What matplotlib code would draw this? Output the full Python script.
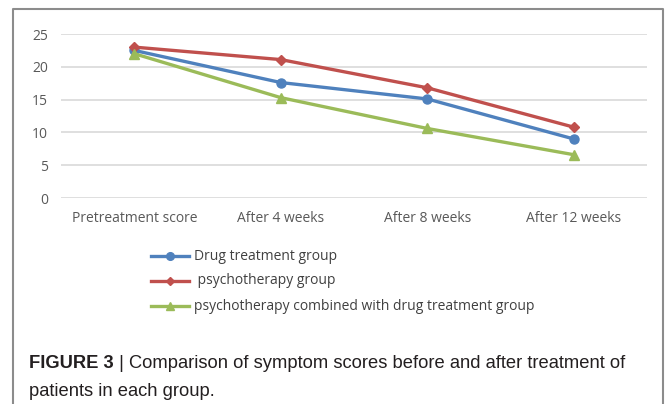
import matplotlib.pyplot as plt
from matplotlib.lines import Line2D

categories = ["Pretreatment score", "After 4 weeks", "After 8 weeks", "After 12 weeks"]
drug = [22.5, 17.6, 15.1, 9.0]
psycho = [23.0, 21.1, 16.8, 10.8]
combined = [22.0, 15.3, 10.6, 6.6]
series_names = ["Drug treatment group", " psychotherapy group",
                "psychotherapy combined with drug treatment group"]
yticks = [0, 5, 10, 15, 20, 25]

W, H = 665, 404
fig = plt.figure(figsize=(W / 100, H / 100), dpi=100)

# plot area in pixel coords of the reference
ax = fig.add_axes([61 / W, 1 - 198 / H, (647 - 61) / W, (198 - 34) / H])

x = range(len(categories))
blue, red, green = "#4F81BD", "#C0504D", "#9BBB59"
l1, = ax.plot(x, drug, color=blue, lw=2.4, marker="o", ms=6.5)
l2, = ax.plot(x, psycho, color=red, lw=2.4, marker="D", ms=5)
l3, = ax.plot(x, combined, color=green, lw=2.4, marker="^", ms=7)

ax.set_xlim(-0.5, len(categories) - 0.5)
ax.set_ylim(0, 25)
ax.set_yticks(yticks)
ax.set_xticks(list(x))
ax.set_xticklabels(categories)
ax.grid(axis="y", color="#d9d9d9", lw=1.2)
ax.set_axisbelow(True)
for s in ax.spines.values():
    s.set_visible(False)
ax.tick_params(length=0, labelsize=10, labelcolor="#595959", pad=9)
ax.tick_params(axis="y", pad=9.5)
for t in ax.get_xticklabels() + ax.get_yticklabels():
    t.set_family("Open Sans")

# legend below the plot
ys = [256, 281, 306]
for line, name, y in zip([l1, l2, l3], series_names, ys):
    fy = 1 - y / H
    fig.add_artist(Line2D([151 / W, 189 / W], [fy, fy], color=line.get_color(), lw=2.4))
    fig.add_artist(Line2D([170 / W], [fy], color=line.get_color(), marker=line.get_marker(),
                          ms=line.get_markersize() * 0.85))
    fig.text(194 / W, fy, name, fontsize=10, color="#404040", va="center", family="Open Sans")

# outer frame (left, top, right)
fr = "#8c8c8c"
fig.add_artist(Line2D([13 / W, 13 / W, 663 / W, 663 / W], [0, 1 - 9 / H, 1 - 9 / H, 0], color=fr, lw=1.5))

# caption
cap_size = 13.2
t1 = fig.text(29 / W, 1 - 364 / H, "FIGURE 3", fontsize=cap_size, weight="bold", color="#231f20",
              va="center", family="Liberation Sans")
fig.canvas.draw()
bb = t1.get_window_extent()
fig.text(bb.x1 / W, 1 - 364 / H, " | Comparison of symptom scores before and after treatment of",
         fontsize=cap_size, color="#231f20", va="center", family="Liberation Sans")
fig.text(29 / W, 1 - 391 / H, "patients in each group.", fontsize=cap_size, color="#231f20",
         va="center", family="Liberation Sans")

fig.savefig("out.png", dpi=100)
